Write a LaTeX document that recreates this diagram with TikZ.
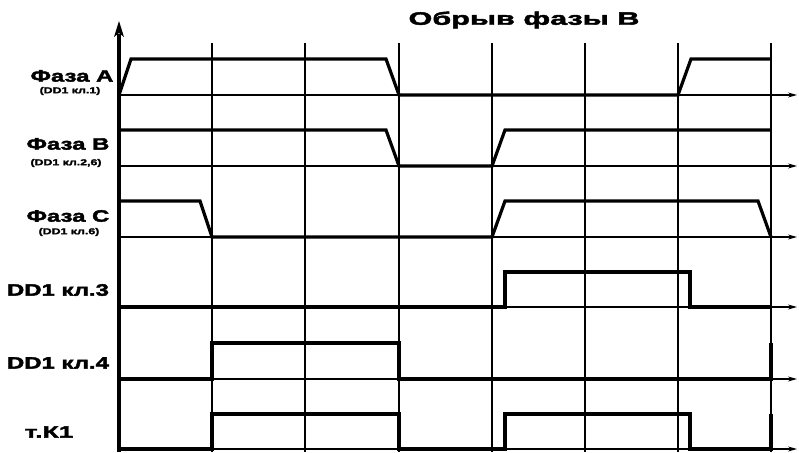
\documentclass[tikz,border=0pt]{standalone}
\usepackage{fontspec}
\setmainfont{Liberation Sans}[FakeStretch=1.45,BoldFeatures={FakeBold=2.5}]
\newfontfamily\ttlfont{Liberation Sans Bold}[FakeStretch=1.7,FakeBold=2.5]
\newfontfamily\kfont{Liberation Sans Bold}[FakeStretch=1.6,FakeBold=2.5]
\usetikzlibrary{arrows.meta}
\begin{document}
\begin{tikzpicture}[x=1pt,y=-1pt,
  sig/.style={line width=3.2pt,line join=miter,line cap=butt},
  grid/.style={line width=1.2pt},
  base/.style={line width=1.1pt,-{Stealth[length=9pt,width=5pt]}},
  big/.style={font=\fontsize{16.5}{18}\selectfont\bfseries,inner sep=0pt},
  small/.style={font=\fontsize{8.5}{9}\selectfont\bfseries,inner sep=0pt},
  ttl/.style={font=\fontsize{18}{20}\selectfont\ttlfont,inner sep=0pt}]
\useasboundingbox (0,0) rectangle (799,452);
% grid lines
\foreach \x in {212,305,399,492,585,678,771}
  \draw[grid] (\x,43) -- (\x,452);
% baselines
\foreach \y in {95,166,237,307,379,449}
  \draw[base] (119,\y) -- (797,\y);
% vertical axis
\coordinate (axb) at (119,452);
\coordinate (axt) at (119,34);
\coordinate (tip) at (119,21);
\draw[line width=3.6pt] (axb) -- (axt);
\fill (tip) -- (114,37) -- (119,33) -- (124,37) -- cycle;
% signals
\draw[sig] (119,95)--(131,59)--(386,59)--(399,95)--(678,95)--(691,59)--(771,59);
\draw[sig] (119,130)--(386,130)--(399,166)--(492,166)--(505,130)--(771,130);
\draw[sig] (119,201)--(200,201)--(212,237)--(492,237)--(505,201)--(758,201)--(771,237);
\draw[sig] (119,307)--(505,307)--(505,272)--(690,272)--(690,307)--(771,307);
\draw[sig] (119,379)--(212,379)--(212,343)--(399,343)--(399,379)--(771,379)--(771,343);
\draw[sig] (119,449)--(212,449)--(212,414)--(399,414)--(399,449)--(505,449)--(505,414)--(690,414)--(690,449)--(771,449)--(771,414);
% labels
\node[ttl] (title) at (524,20) {Обрыв фазы В};
\node[big] (la) at (72,76) {Фаза А};
\node[small] (sa) at (70,91) {(DD1 кл.1)};
\node[big] (lb) at (68,144) {Фаза В};
\node[small] (sb) at (66,163) {(DD1 кл.2,6)};
\node[big] (lc) at (68,216) {Фаза С};
\node[small] (sc) at (69,232) {(DD1 кл.6)};
\node[big] (l3) at (58,290) {DD1 кл.3};
\node[big] (l4) at (58,363) {DD1 кл.4};
\node[big,font=\fontsize{16.5}{18}\selectfont\kfont] (lk) at (49,432) {т.К1};
\end{tikzpicture}
\end{document}
